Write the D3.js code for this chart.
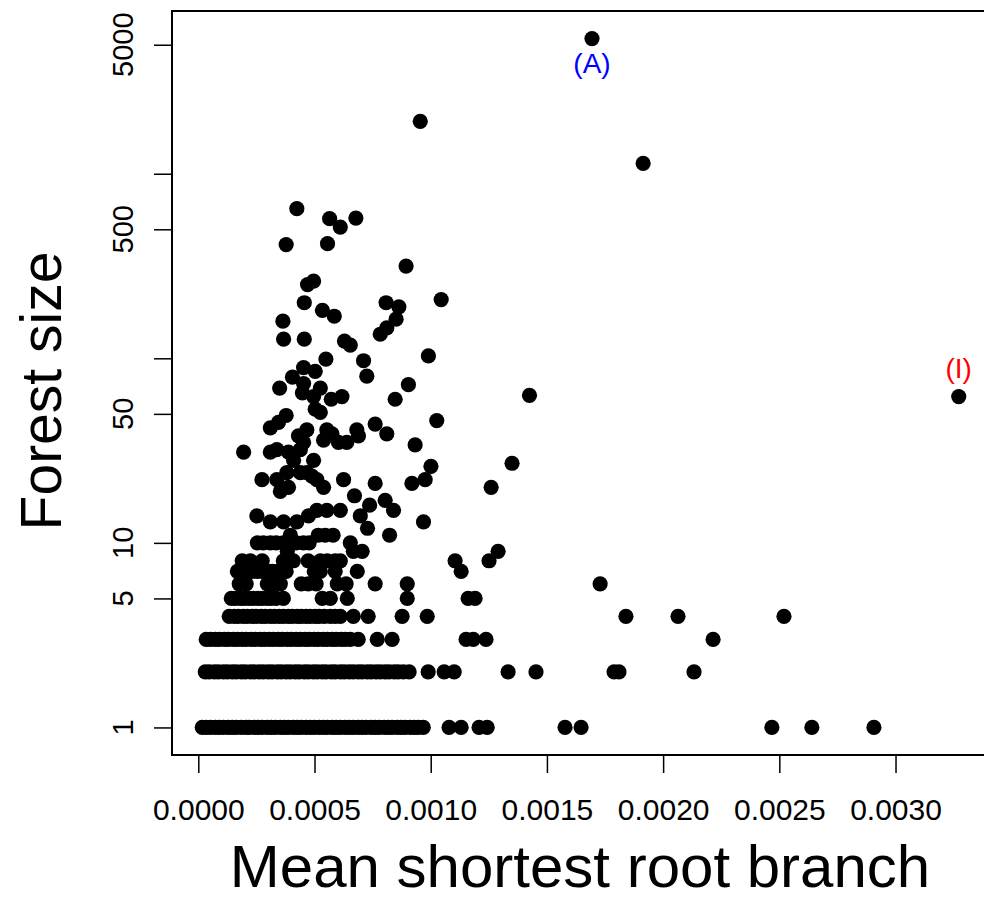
<!DOCTYPE html>
<html>
<head>
<meta charset="utf-8">
<script src="https://cdn.jsdelivr.net/npm/d3@7/dist/d3.min.js"></script>
<style>
  html, body { margin: 0; padding: 0; background: #fff; }
  svg { display: block; }
  text { font-family: "Liberation Sans", Arial, Helvetica, sans-serif; }
</style>
</head>
<body>
<svg id="chart" width="984" height="900"></svg>
<script>
// ---- Data: mean shortest root branch (x) for each forest size (y) ----
const size1Branch = [17e-6,34e-6,52e-6,73e-6,90e-6,108e-6,129e-6,146e-6,163e-6,185e-6,206e-6,219e-6,241e-6,258e-6,275e-6,297e-6,314e-6,331e-6,353e-6,370e-6,387e-6,409e-6,426e-6,443e-6,464e-6,482e-6,499e-6,520e-6,538e-6,555e-6,576e-6,593e-6,611e-6,632e-6,649e-6,667e-6,688e-6,705e-6,722e-6,744e-6,761e-6,778e-6,800e-6,817e-6,834e-6,856e-6,873e-6,890e-6,912e-6,929e-6,946e-6,968e-6,1079e-6,1131e-6,1208e-6,1243e-6,1578e-6,1647e-6,2468e-6,2640e-6,2907e-6];
const size2Branch = [30e-6,47e-6,69e-6,86e-6,108e-6,125e-6,146e-6,163e-6,185e-6,202e-6,224e-6,241e-6,262e-6,280e-6,301e-6,318e-6,340e-6,357e-6,378e-6,396e-6,417e-6,434e-6,456e-6,473e-6,495e-6,512e-6,533e-6,550e-6,572e-6,589e-6,611e-6,628e-6,649e-6,667e-6,688e-6,705e-6,727e-6,744e-6,765e-6,783e-6,804e-6,821e-6,843e-6,860e-6,882e-6,907e-6,989e-6,1058e-6,1101e-6,1333e-6,1453e-6,1789e-6,1810e-6,2133e-6];
const size3Branch = [34e-6,52e-6,73e-6,90e-6,112e-6,129e-6,151e-6,168e-6,189e-6,206e-6,228e-6,245e-6,267e-6,284e-6,305e-6,323e-6,344e-6,361e-6,383e-6,400e-6,421e-6,439e-6,460e-6,477e-6,499e-6,516e-6,538e-6,555e-6,576e-6,593e-6,615e-6,632e-6,654e-6,688e-6,770e-6,834e-6,1152e-6,1183e-6,1238e-6,2215e-6];
const size4Branch = [133e-6,155e-6,172e-6,194e-6,211e-6,232e-6,249e-6,271e-6,288e-6,310e-6,327e-6,348e-6,366e-6,387e-6,404e-6,426e-6,443e-6,464e-6,482e-6,503e-6,520e-6,542e-6,568e-6,589e-6,611e-6,667e-6,731e-6,877e-6,985e-6,1840e-6,2064e-6,2520e-6];
const size5Branch = [142e-6,159e-6,181e-6,198e-6,219e-6,237e-6,258e-6,275e-6,297e-6,314e-6,335e-6,366e-6,533e-6,568e-6,641e-6,899e-6,1161e-6,1191e-6];
const size6Branch = [176e-6,206e-6,297e-6,323e-6,353e-6,443e-6,473e-6,507e-6,598e-6,636e-6,761e-6,899e-6,1729e-6];
const size7Branch = [168e-6,189e-6,211e-6,232e-6,254e-6,275e-6,297e-6,318e-6,340e-6,361e-6,378e-6,499e-6,525e-6,589e-6,684e-6,1131e-6];
const size8Branch = [189e-6,224e-6,275e-6,366e-6,409e-6,473e-6,525e-6,555e-6,589e-6,611e-6,1105e-6,1251e-6];
const size9Branch = [383e-6,667e-6,705e-6,1290e-6];
const size10Branch = [254e-6,280e-6,310e-6,335e-6,366e-6,396e-6,421e-6,452e-6,477e-6,654e-6];

// Larger forests (size > 10)
const largeBranch = [252e-6,310e-6,367e-6,424e-6,474e-6,510e-6,553e-6,611e-6,697e-6,728e-6,969e-6,737e-6,840e-6,804e-6,672e-6,396e-6,516e-6,546e-6,580e-6,823e-6,
  274e-6,338e-6,381e-6,353e-6,388e-6,439e-6,489e-6,510e-6,539e-6,625e-6,761e-6,919e-6,976e-6,1001e-6,1260e-6,1350e-6,467e-6,
  195e-6,310e-6,338e-6,388e-6,410e-6,496e-6,453e-6,439e-6,603e-6,639e-6,933e-6,
  467e-6,431e-6,553e-6,539e-6,575e-6,682e-6,689e-6,761e-6,811e-6,1026e-6,378e-6,345e-6,310e-6,
  503e-6,525e-6,448e-6,496e-6,618e-6,572e-6,904e-6,847e-6,405e-6,453e-6,525e-6,350e-6,453e-6,503e-6,549e-6,711e-6,725e-6,990e-6,1425e-6,
  367e-6,456e-6,629e-6,654e-6,364e-6,534e-6,585e-6,456e-6,808e-6,863e-6,851e-6,811e-6,783e-6,1045e-6,894e-6,496e-6,470e-6,378e-6,556e-6,
  424e-6,565e-6,611e-6,678e-6,955e-6,1694e-6,1914e-6,3272e-6];
const largeSize = [14,13,13,13,14,15,15,15,14,12,13,16,15,17,18,11,11,11,11,11,
  22,22,24,19,20,24,23,22,20,22,21,21,22,26,20,27,24,
  31,31,32,31,28,28,35,32,35,35,34,
  41,38,41,36,39,41,38,44,39,46,49,45,42,
  53,51,65,62,62,60,72,60,79,73,69,69,89,85,99,97,80,103,63,
  127,127,124,118,159,182,169,200,200,190,163,146,135,208,316,262,251,413,418,
  647,571,514,575,1924,5400,1137,62];

// Annotated forests
const labelTexts = ["(A)", "(I)"];
const labelBranch = [1694e-6, 3272e-6];
const labelSize = [5400, 62];
const labelColors = ["#0000ff", "#ff0000"];

// Axis ticks
const xTicks = [0, 0.0005, 0.001, 0.0015, 0.002, 0.0025, 0.003];
const yTicks = [1, 5, 10, 50, 100, 500, 1000, 5000];
const yTickLabels = ["1", "5", "10", "50", "", "500", "", "5000"];
const xTitle = "Mean shortest root branch";
const yTitle = "Forest size";

// ---- Build points ----
const rows = [size1Branch, size2Branch, size3Branch, size4Branch, size5Branch,
              size6Branch, size7Branch, size8Branch, size9Branch, size10Branch];
const points = [];
rows.forEach((arr, i) => arr.forEach(x => points.push({x: x, y: i + 1})));
largeBranch.forEach((x, i) => points.push({x: x, y: largeSize[i]}));

// ---- Layout ----
const box = {left: 172, right: 989, top: 11, bottom: 755};
const svg = d3.select("#chart");

// R-style 4% range extension
const xmin = d3.min(points, d => d.x), xmax = d3.max(points, d => d.x);
const xr = xmax - xmin;
const x = d3.scaleLinear().domain([xmin - 0.04 * xr, xmax + 0.04 * xr]).range([box.left, box.right]);

const lmin = Math.log10(d3.min(points, d => d.y)), lmax = Math.log10(d3.max(points, d => d.y));
const lr = lmax - lmin;
const y = d3.scaleLog().domain([Math.pow(10, lmin - 0.04 * lr), Math.pow(10, lmax + 0.04 * lr)]).range([box.bottom, box.top]);

// Points
svg.append("g").selectAll("circle").data(points).join("circle")
  .attr("cx", d => x(d.x)).attr("cy", d => y(d.y)).attr("r", 7.6)
  .attr("fill", "#000");

// Box
svg.append("rect")
  .attr("x", box.left).attr("y", box.top)
  .attr("width", box.right - box.left).attr("height", box.bottom - box.top)
  .attr("fill", "none").attr("stroke", "#000").attr("stroke-width", 2);

// X axis
const xAxis = svg.append("g").attr("transform", `translate(0,${box.bottom})`)
  .call(d3.axisBottom(x).tickValues(xTicks).tickFormat(d3.format(".4f")).tickSize(18).tickPadding(26).tickSizeOuter(0));
xAxis.select(".domain").remove();
xAxis.selectAll(".tick line").attr("stroke", "#000").attr("stroke-width", 1.5);
xAxis.selectAll(".tick text").attr("font-size", 30).attr("fill", "#000")
  .attr("font-family", "'Liberation Sans', Arial, sans-serif");

// Y axis
const yAxis = svg.append("g").attr("transform", `translate(${box.left},0)`)
  .call(d3.axisLeft(y).tickValues(yTicks).tickFormat(() => "").tickSize(18).tickSizeOuter(0));
yAxis.select(".domain").remove();
yAxis.selectAll(".tick line").attr("stroke", "#000").attr("stroke-width", 1.5);

svg.append("g").selectAll("text").data(yTicks).join("text")
  .attr("transform", d => `translate(133,${y(d)}) rotate(-90)`)
  .attr("text-anchor", "middle").attr("font-size", 29).attr("fill", "#000")
  .text((d, i) => yTickLabels[i]);

// Titles
svg.append("text").attr("x", 580).attr("y", 887).attr("text-anchor", "middle")
  .attr("font-size", 60).attr("fill", "#000").text(xTitle);
svg.append("text").attr("transform", `translate(61,${391}) rotate(-90)`)
  .attr("text-anchor", "middle").attr("font-size", 57).attr("fill", "#000").text(yTitle);

// Annotations
svg.append("g").selectAll("text").data(labelTexts).join("text")
  .attr("x", (d, i) => x(labelBranch[i]))
  .attr("y", (d, i) => y(labelSize[i]) + (i === 0 ? 34 : -19))
  .attr("text-anchor", "middle").attr("font-size", 28)
  .attr("fill", (d, i) => labelColors[i]).text(d => d);
</script>
</body>
</html>
